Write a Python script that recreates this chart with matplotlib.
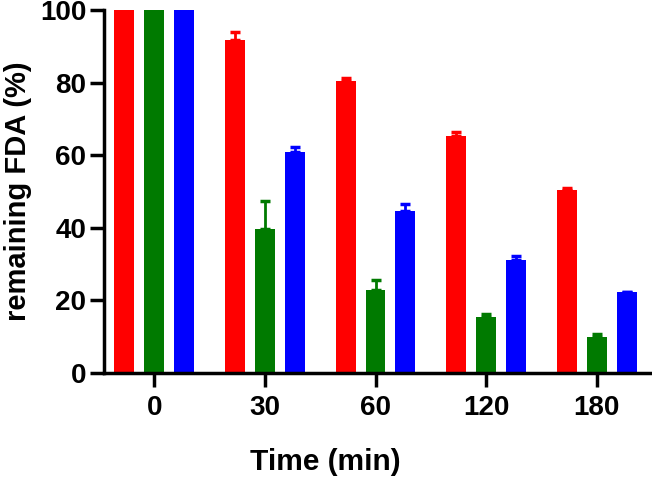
import numpy as np
import matplotlib
matplotlib.use("Agg")
import matplotlib.pyplot as plt

plt.rcParams["font.family"] = ["Liberation Sans", "DejaVu Sans"]
plt.rcParams["font.weight"] = "bold"

times = ["0", "30", "60", "120", "180"]
red_vals = [100, 91.7, 80.4, 65.3, 50.4]
red_err = [0, 2.2, 0.9, 1.1, 0.6]
green_vals = [100, 39.7, 22.9, 15.5, 10.0]
green_err = [0, 7.7, 2.7, 0.7, 0.7]
blue_vals = [100, 60.9, 44.7, 31.1, 22.3]
blue_err = [0, 1.4, 1.8, 1.2, 0]

colors = ["#ff0000", "#007a00", "#0000ff"]

fig = plt.figure(figsize=(6.52, 4.82), dpi=100)
ax = fig.add_axes([0.16, 0.226, 0.837, 0.753])

x = np.arange(len(times))
width = 0.18
offsets = [-0.27, 0, 0.27]

for vals, errs, c, off in zip([red_vals, green_vals, blue_vals],
                              [red_err, green_err, blue_err], colors, offsets):
    errs = np.array(errs)
    ax.bar(x + off, vals, width, color=c, zorder=2)
    ax.errorbar(x + off, vals, yerr=[np.zeros_like(errs), errs], fmt="none",
                ecolor=c, elinewidth=2, capsize=3.6, capthick=2.5, zorder=1)

ax.set_xlim(-0.45, 4.48)
ax.set_ylim(0, 100)
ax.set_yticks(np.arange(0, 101, 20))
ax.set_xticks(x)
ax.set_xticklabels(times)

for side in ["top", "right"]:
    ax.spines[side].set_visible(False)
for side in ["left", "bottom"]:
    ax.spines[side].set_linewidth(2.5)

ax.tick_params(axis="both", width=2.5, length=10, labelsize=20)
ax.tick_params(axis="x", pad=6)
ax.tick_params(axis="y", pad=3)

ax.set_xlabel("Time (min)", fontsize=21.5, fontweight="bold", va="top")
ax.xaxis.set_label_coords(0.405, -0.207)
ax.set_ylabel("remaining FDA (%)", fontsize=21, fontweight="bold")
ax.yaxis.set_label_coords(-0.133, 0.5)

plt.savefig("out.png", dpi=100)
